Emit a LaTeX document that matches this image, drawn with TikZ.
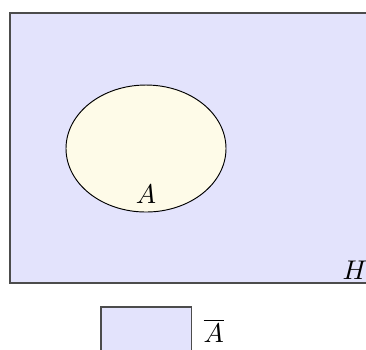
\documentclass[tikz,border=0pt]{standalone}
\usetikzlibrary{shapes.geometric}
\definecolor{univfill}{RGB}{227,227,252}
\definecolor{setfill}{RGB}{254,251,232}
\tikzset{
  univ/.style={draw=black!70,fill=univfill,line width=0.5pt},
  setA/.style={draw=black,fill=setfill,ellipse,line width=0.35pt,
    minimum width=160*0.37pt,minimum height=127*0.37pt,inner sep=0pt},
}
\begin{document}
\begin{tikzpicture}[x=0.37pt,y=-0.37pt]
  \useasboundingbox (0,0) rectangle (366,349);
  \begin{scope}
  \clip (0,0) rectangle (366,349);
  \draw[univ] (10,13) rectangle (380,283);
  \node[setA] (A) at (146,148.5) {};
  \node at (146,194) (labelA) {$A$};
  \node at (355,270) (labelH) {$H$};
  \draw[univ] (101,307) rectangle (191.5,360);
  \node[anchor=west] at (194,331) (labelAbar) {$\overline{A}$};
  \end{scope}
\end{tikzpicture}
\end{document}
